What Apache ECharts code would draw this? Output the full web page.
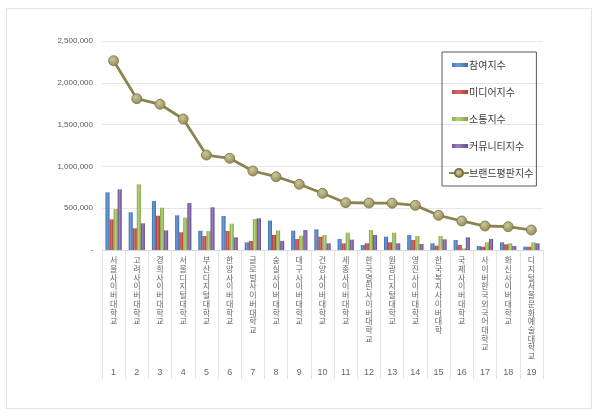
<!DOCTYPE html>
<html>
<head>
<meta charset="utf-8">
<script src="https://cdn.jsdelivr.net/npm/echarts@6/dist/echarts.min.js"></script>
<style>
html,body{margin:0;padding:0;background:#fff;}
#main{width:600px;height:416px;}
</style>
</head>
<body>
<div id="main"></div>
<script>
// 대학 목록
var schools = ["서울사이버대학교","고려사이버대학교","경희사이버대학교","서울디지털대학교","부산디지털대학교","한양사이버대학교","글로벌사이버대학교","숭실사이버대학교","대구사이버대학교","건양사이버대학교","세종사이버대학교","한국열린사이버대학교","원광디지털대학교","영진사이버대학교","한국복지사이버대학","국제사이버대학교","사이버한국외국어대학교","화신사이버대학교","디지털서울문화예술대학교"];
var ranks = ["1","2","3","4","5","6","7","8","9","10","11","12","13","14","15","16","17","18","19"];

var participation = [690000,451000,586000,415000,231000,407000,92000,352000,231000,247000,132000,60000,159000,179000,80000,120000,48000,92000,40000];
var media = [367000,260000,410000,212000,167000,227000,108000,181000,132000,159000,80000,80000,92000,120000,52000,60000,40000,68000,40000];
var communication = [490000,786000,506000,386000,227000,315000,371000,233000,171000,179000,207000,239000,207000,167000,167000,20000,92000,80000,92000];
var community = [726000,319000,235000,562000,511000,152000,379000,108000,239000,80000,124000,179000,80000,72000,128000,152000,132000,48000,80000];
var brandIndex = [2264000,1810000,1743000,1567000,1136000,1097000,945000,877000,786000,678000,566000,562000,560000,534000,415000,347000,287000,279000,239000];

var seriesNames = ["참여지수","미디어지수","소통지수","커뮤니티지수","브랜드평판지수"];

function barColor(dark, light){
	return new echarts.graphic.LinearGradient(0,0,1,0,[
		{offset:0,color:dark},
		{offset:0.45,color:light},
		{offset:1,color:dark}
	]);
}
var barIcon = 'path://M0,0M2,3h16v4H2zM0,10';

var myChart = echarts.init(document.getElementById('main'));
var option = {
	backgroundColor:'#fff',
	animation:false,
	graphic:[{
		type:'rect',
		shape:{x:6.5,y:8.5,width:585,height:400},
		style:{fill:'none',stroke:'#e3e3e3',lineWidth:1},
		silent:true
	}],
	legend:{
		orient:'vertical',
		left:442,
		top:52,
		padding:[8,3,8,6],
		itemGap:17,
		itemWidth:20,
		itemHeight:10,
		borderColor:'#595959',
		borderWidth:1,
		textStyle:{fontSize:10,color:'#404040',fontFamily:'Noto Sans CJK KR',padding:[0,0,0,-5]},
		data:[
			{name:seriesNames[0],icon:barIcon},
			{name:seriesNames[1],icon:barIcon},
			{name:seriesNames[2],icon:barIcon},
			{name:seriesNames[3],icon:barIcon},
			{name:seriesNames[4]}
		]
	},
	grid:{left:102,right:57,top:41,bottom:166},
	xAxis:[{
		type:'category',
		data:schools,
		axisLine:{lineStyle:{color:'#d9d9d9'}},
		axisTick:{show:true,length:129,interval:0,lineStyle:{color:'#e4e4e4'}},
		axisLabel:{
			interval:0,
			margin:6,
			fontSize:8,
			lineHeight:8.7,
			color:'#666666',
			fontFamily:'Noto Sans CJK KR',
			formatter:function(v){return v.split('').join('\n');}
		}
	},{
		type:'category',
		data:ranks,
		position:'bottom',
		axisLine:{show:false},
		axisTick:{show:false},
		axisLabel:{interval:0,margin:118,fontSize:9,color:'#666666',fontFamily:'Liberation Sans'}
	}],
	yAxis:[{
		type:'value',
		min:0,
		max:2500000,
		interval:500000,
		axisLine:{show:false},
		axisTick:{show:false},
		splitLine:{lineStyle:{color:'#e6e6e6'}},
		axisLabel:{
			margin:9,
			fontSize:8,
			color:'#595959',
			fontFamily:'Liberation Sans',
			formatter:function(v){
				if(v===0) return '-';
				return v.toString().replace(/\B(?=(\d{3})+(?!\d))/g,',');
			}
		}
	}],
	series:[{
		name:seriesNames[0],
		type:'bar',
		barGap:'0%',
		barCategoryGap:'30%',
		itemStyle:{color:barColor('#3a6aa5','#6f9cd6')},
		data:participation
	},{
		name:seriesNames[1],
		type:'bar',
		barGap:'0%',
		barCategoryGap:'30%',
		itemStyle:{color:barColor('#a63c39','#d86b68')},
		data:media
	},{
		name:seriesNames[2],
		type:'bar',
		barGap:'0%',
		barCategoryGap:'30%',
		itemStyle:{color:barColor('#7f9e42','#b6d577')},
		data:communication
	},{
		name:seriesNames[3],
		type:'bar',
		barGap:'0%',
		barCategoryGap:'30%',
		itemStyle:{color:barColor('#63498a','#9a80bd')},
		data:community
	},{
		name:seriesNames[4],
		type:'line',
		symbol:'circle',
		symbolSize:10,
		z:5,
		lineStyle:{color:'#8a8352',width:2.8},
		itemStyle:{
			color:new echarts.graphic.RadialGradient(0.4,0.35,0.7,[
				{offset:0,color:'#cfc79a'},
				{offset:1,color:'#8e8650'}
			]),
			borderColor:'#7a7345',
			borderWidth:0.8
		},
		data:brandIndex
	}]
};
myChart.setOption(option);
</script>
</body>
</html>
